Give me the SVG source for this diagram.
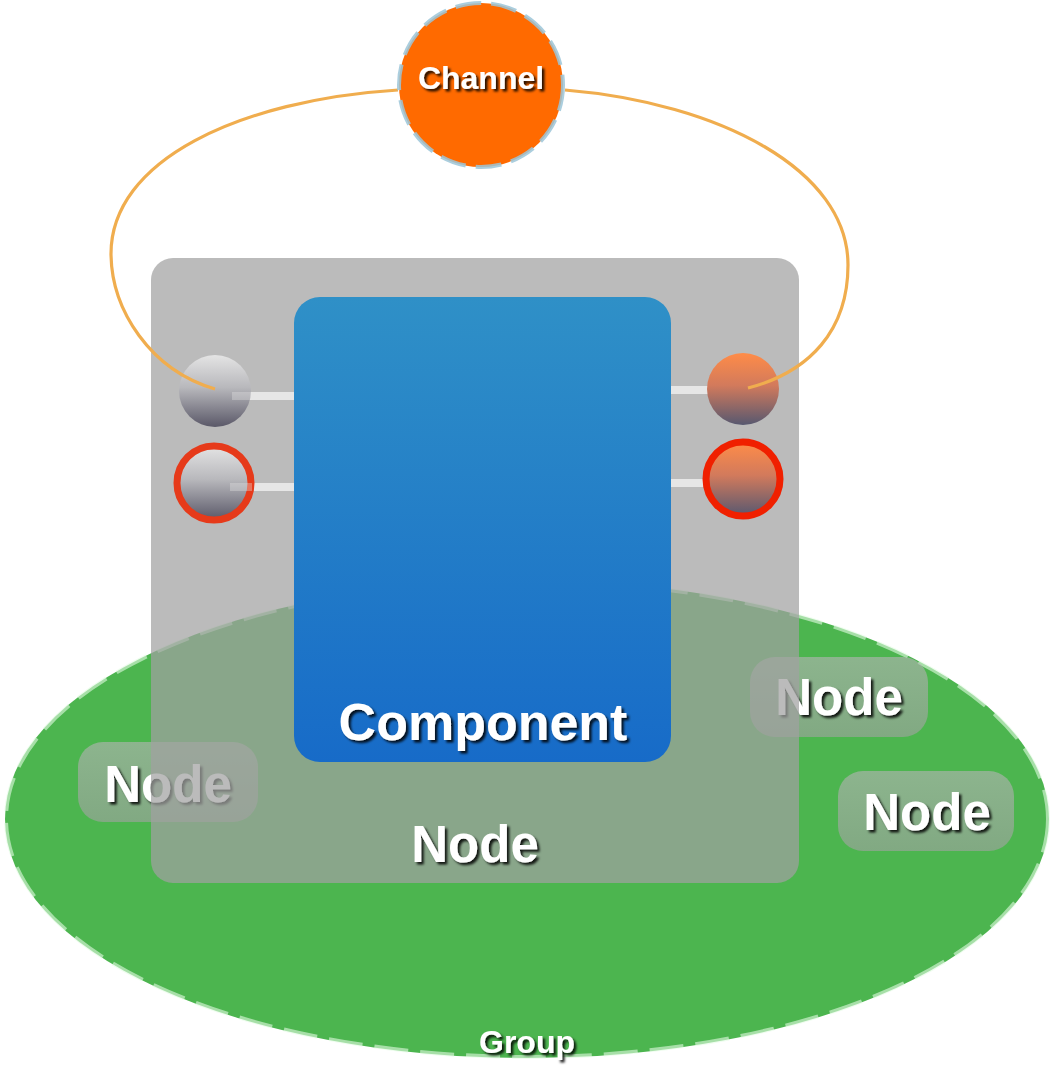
<svg xmlns="http://www.w3.org/2000/svg" width="1053" height="1066" viewBox="0 0 1053 1066">
<defs>
<filter id="sh" x="-20%" y="-20%" width="140%" height="150%">
<feDropShadow dx="2.5" dy="2.5" stdDeviation="1.2" flood-color="#000" flood-opacity="0.85"/>
</filter>
<linearGradient id="gComp" x1="0" y1="0" x2="0" y2="1">
<stop offset="0" stop-color="#2f90c7"/>
<stop offset="1" stop-color="#176bc8"/>
</linearGradient>
<linearGradient id="gPortGray" x1="0" y1="0" x2="0" y2="1">
<stop offset="0" stop-color="#e4e4e4"/>
<stop offset="0.45" stop-color="#b8b8bc"/>
<stop offset="1" stop-color="#5a5868"/>
</linearGradient>
<linearGradient id="gPortOrange" x1="0" y1="0" x2="0" y2="1">
<stop offset="0" stop-color="#ff8c48"/>
<stop offset="0.45" stop-color="#d27a5c"/>
<stop offset="1" stop-color="#575870"/>
</linearGradient>
<linearGradient id="gSmall" x1="0" y1="0" x2="0" y2="1">
<stop offset="0" stop-color="#b4b4b4"/>
<stop offset="1" stop-color="#a2a2a2"/>
</linearGradient>
<style>
.lbl{font-family:"Liberation Sans",Arial,sans-serif;font-weight:bold;fill:#fff;text-anchor:middle;filter:url(#sh)}
.small{fill:url(#gSmall);opacity:0.62}
.bar{stroke:#e6e6e6;stroke-width:8;fill:none}
.wire{stroke:#f0ad4e;stroke-width:3.2;fill:none}
</style>
</defs>

<g id="group">
<ellipse cx="527" cy="819" rx="522" ry="239" fill="#4cb54f"/>
<ellipse cx="527" cy="819" rx="521" ry="238" fill="none" stroke="#e4fbe4" stroke-opacity="0.6" stroke-width="4" stroke-dasharray="34 12"/>
<text class="lbl" x="527" y="1053" font-size="32">Group</text>
</g>

<g id="node-left">
<rect class="small" x="78" y="742" width="180" height="80" rx="25"/>
<text class="lbl" x="168" y="802" font-size="51">Node</text>
</g>
<g id="node-right-top">
<rect class="small" x="750" y="657" width="178" height="80" rx="25"/>
<text class="lbl" x="839" y="715" font-size="51">Node</text>
</g>
<g id="node-right-bottom">
<rect class="small" x="838" y="771" width="176" height="80" rx="25"/>
<text class="lbl" x="927" y="830" font-size="51">Node</text>
</g>

<g id="node-main">
<rect x="151" y="258" width="648" height="625" rx="22" fill="#a1a1a1" opacity="0.72"/>
<text class="lbl" x="475" y="862" font-size="51">Node</text>
</g>

<g id="component">
<rect x="294" y="297" width="377" height="465" rx="26" fill="url(#gComp)"/>
<text class="lbl" x="483" y="740" font-size="52">Component</text>
</g>

<g id="connectors">
<line class="bar" x1="250" y1="396" x2="294" y2="396"/>
<line class="bar" x1="250" y1="487" x2="294" y2="487"/>
<line class="bar" x1="671" y1="390" x2="712" y2="390"/>
<line class="bar" x1="671" y1="483" x2="712" y2="483"/>
</g>

<g id="port-left-1">
<circle cx="215" cy="391" r="36" fill="url(#gPortGray)"/>
</g>
<g id="port-left-2">
<circle cx="214" cy="483" r="37" fill="url(#gPortGray)" stroke="#e63a1a" stroke-width="7"/>
</g>
<g id="port-right-1">
<circle cx="743" cy="389" r="36" fill="url(#gPortOrange)"/>
</g>
<g id="port-right-2">
<circle cx="743" cy="479" r="37" fill="url(#gPortOrange)" stroke="#f02000" stroke-width="7"/>
</g>

<g id="port-bars-overlay" opacity="0.35">
<line class="bar" x1="232" y1="396" x2="252" y2="396"/>
<line class="bar" x1="230" y1="487" x2="252" y2="487"/>
</g>

<g id="channel-wires">
<path class="wire" d="M215,389 C150,370 112,310 111,255 C110,160 240,100 398,90"/>
<path class="wire" d="M748,388 C810,372 848,330 848,265 C848,170 720,103 565,90"/>
</g>

<g id="channel">
<circle cx="481" cy="85" r="82" fill="#ff6a00" stroke="#9cc6d8" stroke-opacity="0.85" stroke-width="4" stroke-dasharray="26 10"/>
<text class="lbl" x="481" y="89" font-size="32">Channel</text>
</g>
</svg>
